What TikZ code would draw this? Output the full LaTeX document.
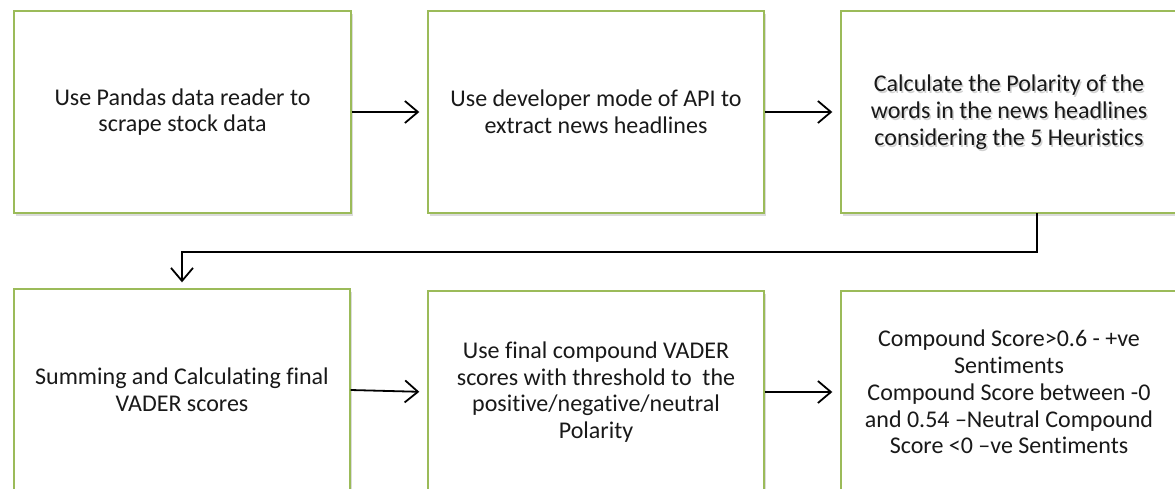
\documentclass[tikz,border=0pt]{standalone}
\usepackage{fontspec}
\setmainfont{Carlito}[Ligatures=NoCommon]
\usetikzlibrary{arrows.meta,shadows,calc}
\definecolor{boxgreen}{HTML}{9BBB59}
\tikzset{
  stepbox/.style={draw=boxgreen, line width=1.4pt, fill=white, inner sep=0pt,
    drop shadow={opacity=0.28, shadow xshift=2pt, shadow yshift=-3pt}},
  boxtext/.style={align=center, font=\fontsize{24}{26.8}\selectfont, text=black!90},
  flow/.style={line width=1.8pt, -{Straight Barb[length=13pt,width=22pt,line width=1.8pt]}, shorten >=8pt}
}
\begin{document}
\begin{tikzpicture}[x=1pt,y=-1pt]
\useasboundingbox (0,0) rectangle (1175,488);
\clip (0,0) rectangle (1175,488);
\fill[white] (0,0) rectangle (1175,488);
% boxes
\node[stepbox, minimum width=337pt, minimum height=202pt] (b1) at (182.5,112) {};
\node[stepbox, minimum width=336pt, minimum height=202pt] (b2) at (596,112) {};
\node[stepbox, minimum width=336pt, minimum height=202pt] (b3) at (1009,112) {};
\node[stepbox, minimum width=336pt, minimum height=202pt] (b4) at (182,390) {};
\node[stepbox, minimum width=336pt, minimum height=202pt] (b5) at (596,392) {};
\node[stepbox, minimum width=336pt, minimum height=202pt] (b6) at (1009,392) {};
% texts
\node[boxtext] (t1) at (b1.center) {Use Pandas data reader to\\scrape stock data};
\node[boxtext] (t2) at (b2.center) {Use developer mode of API to\\extract news headlines};
\node[boxtext, text=black!30, opacity=0.6] (t3s) at ($(b3.center)+(1.5,2)$) {Calculate the Polarity of the\\words in the news headlines\\considering the 5 Heuristics};
\node[boxtext] (t3) at (b3.center) {Calculate the Polarity of the\\words in the news headlines\\considering the 5 Heuristics};
\node[boxtext] (t4) at (b4.center) {Summing and Calculating final\\VADER scores};
\node[boxtext] (t5) at (b5.center) {Use final compound VADER\\scores with threshold to\ \ the\\positive/negative/neutral\\Polarity};
\node[boxtext] (t6) at (b6.center) {Compound Score>0.6 - +ve\\Sentiments\\Compound Score between -0\\and 0.54 –Neutral Compound\\Score <0 –ve Sentiments};
% connectors
\draw[flow] (b1.east) -- (b2.west);
\draw[flow] (b2.east) -- (b3.west);
\coordinate (c1) at (1037,213);
\coordinate (c2) at (1037,252);
\coordinate (c3) at (182,252);
\draw[flow, shorten >=6pt] (c1) -- (c2) -- (c3) -- (b4.north);
\draw[flow] (b4.east) -- (b5.west);
\draw[flow] (b5.east) -- (b6.west);
\end{tikzpicture}
\end{document}
